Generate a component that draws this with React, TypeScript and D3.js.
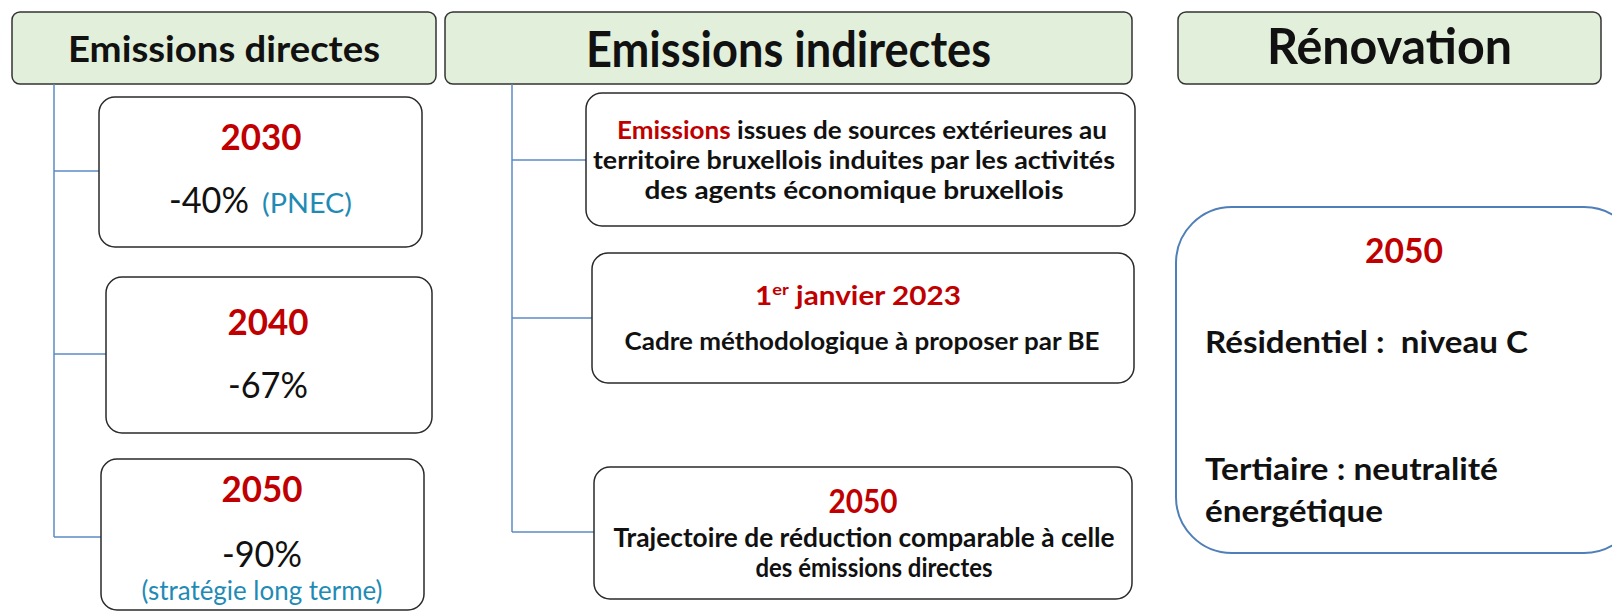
import React, { useRef, useEffect } from "react";
import * as d3 from "d3";

// column headers
const headers = ["Emissions directes", "Emissions indirectes", "Rénovation"];

// direct emissions targets
const directYears = ["2030", "2040", "2050"];
const directCuts = ["-40%", "-67%", "-90%"];
const directNotes = ["(PNEC)", "", "(stratégie long terme)"];

// indirect emissions blocks
const indirectIntro = [
  "Emissions issues de sources extérieures au",
  "territoire bruxellois induites par les activités",
  "des agents économique bruxellois",
];
const indirectDate = ["1", "er", " janvier 2023"];
const indirectMethod = "Cadre méthodologique à proposer par BE";
const indirectYear = "2050";
const indirectTrajectory = ["Trajectoire de réduction comparable à celle", "des émissions directes"];

// renovation
const renovYear = "2050";
const renovLines = ["Résidentiel :  niveau C", "Tertiaire : neutralité", "énergétique"];

const RED = "#c00000";
const TEAL = "#1f8bb5";
const LINK = "#5b8ac6";
const FONT = "Lato, 'Open Sans', sans-serif";

function Diagram() {
  const svgRef = useRef<SVGSVGElement>(null);

  useEffect(() => {
    document.body.style.margin = "0";
    const svg = d3.select(svgRef.current);
    svg.selectAll("*").remove();

    const txt = (
      g: any,
      s: string,
      x: number,
      y: number,
      size: number,
      len: number,
      opts: { weight?: string; fill?: string; anchor?: string } = {}
    ) =>
      g
        .append("text")
        .attr("x", x)
        .attr("y", y)
        .attr("font-family", FONT)
        .attr("font-size", size)
        .attr("font-weight", opts.weight || "bold")
        .attr("fill", opts.fill || "#111")
        .attr("text-anchor", opts.anchor || "middle")
        .attr("textLength", len)
        .attr("lengthAdjust", "spacingAndGlyphs")
        .style("white-space", "pre")
        .text(s);

    const box = (x0: number, y0: number, x1: number, y1: number, r: number, fill: string, stroke: string, w: number) =>
      svg
        .append("rect")
        .attr("x", x0)
        .attr("y", y0)
        .attr("width", x1 - x0)
        .attr("height", y1 - y0)
        .attr("rx", r)
        .attr("fill", fill)
        .attr("stroke", stroke)
        .attr("stroke-width", w);

    const link = d3.line();
    const drawLink = (pts: [number, number][]) =>
      svg
        .append("path")
        .attr("d", link(pts))
        .attr("stroke", LINK)
        .attr("stroke-width", 1.5)
        .attr("fill", "none");

    // headers
    const headerX = [
      [12, 436],
      [445, 1132],
      [1178, 1601],
    ];
    const headerSize = [37, 49, 49];
    const headerLen = [312, 405, 245];
    const headerBase = [62, 67, 64];
    headers.forEach((h, i) => {
      box(headerX[i][0], 12, headerX[i][1], 84, 8, "#e2efda", "#333", 1.5);
      txt(svg, h, (headerX[i][0] + headerX[i][1]) / 2, headerBase[i], headerSize[i], headerLen[i]);
    });

    // connectors - direct
    const dTrunk = 54;
    const dBranchY = [171, 354, 537];
    const dBoxes = [
      [99, 97, 422, 247],
      [106, 277, 432, 433],
      [101, 459, 424, 610],
    ];
    drawLink([[dTrunk, 84], [dTrunk, dBranchY[2]]]);
    dBranchY.forEach((y, i) => drawLink([[dTrunk, y], [dBoxes[i][0], y]]));

    // direct boxes
    const yearBase = [150, 335, 502];
    const cutBase = [213, 398, 567];
    directYears.forEach((yr, i) => {
      const [x0, y0, x1, y1] = dBoxes[i];
      box(x0, y0, x1, y1, 16, "#fff", "#2a2a2a", 1.5);
      const cx = i === 0 ? 261 : i === 1 ? 268 : 262;
      txt(svg, yr, cx, yearBase[i], 36, 81, { fill: RED });
      if (i === 0) {
        txt(svg, directCuts[i], 169, cutBase[i], 37, 80, { weight: "normal", anchor: "start" });
        txt(svg, directNotes[i], 262, cutBase[i], 26, 90, { weight: "normal", anchor: "start", fill: TEAL });
      } else {
        txt(svg, directCuts[i], cx, cutBase[i], 37, 80, { weight: "normal" });
        if (directNotes[i]) txt(svg, directNotes[i], cx, 600, 26, 241, { weight: "normal", fill: TEAL });
      }
    });

    // connectors - indirect
    const iTrunk = 512;
    const iBoxes = [
      [586, 93, 1135, 226],
      [592, 253, 1134, 383],
      [594, 467, 1132, 599],
    ];
    const iBranchY = [160, 318, 532];
    drawLink([[iTrunk, 84], [iTrunk, iBranchY[2]]]);
    iBranchY.forEach((y, i) => drawLink([[iTrunk, y], [iBoxes[i][0], y]]));
    iBoxes.forEach(([x0, y0, x1, y1]) => box(x0, y0, x1, y1, 16, "#fff", "#2a2a2a", 1.5));

    // indirect box 1
    const introBase = [139, 169, 199];
    const introLen = [490, 522, 419];
    indirectIntro.forEach((line, i) => {
      if (i === 0) {
        const t = txt(svg, "", 862, introBase[i], 24, introLen[i]);
        const [first, ...rest] = line.split(" ");
        t.append("tspan").attr("fill", RED).text(first);
        t.append("tspan").text(" " + rest.join(" "));
      } else {
        txt(svg, line, 854, introBase[i], 24, introLen[i]);
      }
    });

    // indirect box 2
    const dt = txt(svg, "", 858, 305, 26, 206, { fill: RED });
    dt.append("tspan").text(indirectDate[0]);
    dt.append("tspan").attr("font-size", 16).attr("dy", -10).text(indirectDate[1]);
    dt.append("tspan").attr("dy", 10).text(indirectDate[2]);
    txt(svg, indirectMethod, 862, 350, 24, 475);

    // indirect box 3
    txt(svg, indirectYear, 863, 513, 32, 69, { fill: RED });
    txt(svg, indirectTrajectory[0], 864, 547, 26, 501);
    txt(svg, indirectTrajectory[1], 874, 577, 26, 237);

    // renovation
    box(1176, 207, 1640, 553, 56, "#fff", "#4f7fb8", 2);
    txt(svg, renovYear, 1404, 263, 35, 78, { fill: RED });
    const renovBase = [353, 480, 522];
    const renovLen = [323, 293, 178];
    renovLines.forEach((l, i) => txt(svg, l, 1205, renovBase[i], 30, renovLen[i], { anchor: "start" }));
  }, []);

  return <svg ref={svgRef} width={1612} height={612} style={{ display: "block", background: "#fff" }} />;
}

export default function App() {
  return <Diagram />;
}
